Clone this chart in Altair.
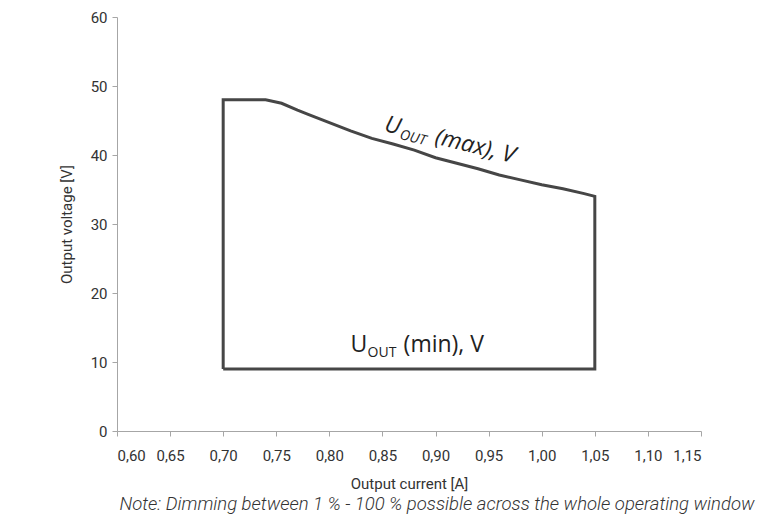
import altair as alt
import pandas as pd

# Operating window outline (current [A], voltage [V])
current = [0.70, 0.70, 0.74, 0.755, 0.77, 0.78, 0.80, 0.82, 0.84, 0.86, 0.88, 0.90,
           0.92, 0.94, 0.96, 0.98, 1.00, 1.02, 1.04, 1.05, 1.05, 0.70]
voltage = [9, 48, 48, 47.5, 46.5, 45.9, 44.7, 43.5, 42.4, 41.6, 40.7, 39.6,
           38.8, 38.0, 37.1, 36.4, 35.7, 35.1, 34.4, 34.0, 9, 9]

x_ticks = [0.60, 0.65, 0.70, 0.75, 0.80, 0.85, 0.90, 0.95, 1.00, 1.05, 1.10, 1.15]
y_ticks = [0, 10, 20, 30, 40, 50, 60]

note = "Note: Dimming between 1 % - 100 % possible across the whole operating window"

df = pd.DataFrame({"current": current, "voltage": voltage, "order": list(range(len(current)))})

AXIS_FONT = "Roboto"
NOTE_FONT = "Roboto"
LINE_COLOR = "#464646"
TEXT_COLOR = "#333333"

xscale = alt.Scale(domain=[0.60, 1.15], nice=False, zero=False)
yscale = alt.Scale(domain=[0, 60], nice=False)

line = alt.Chart(df).mark_line(color=LINE_COLOR, strokeWidth=3, strokeJoin="miter").encode(
    x=alt.X("current:Q", scale=xscale,
            axis=alt.Axis(values=x_ticks, title="Output current [A]",
                          labelExpr="replace(format(datum.value, '.2f'), '.', ',')")),
    y=alt.Y("voltage:Q", scale=yscale,
            axis=alt.Axis(values=y_ticks, title="Output voltage [V]")),
    order="order:Q",
)

# Annotations
max_lab = pd.DataFrame({"current": [0.851], "voltage": [43.5]})
min_lab = pd.DataFrame({"current": [0.820], "voltage": [11.45]})

def piece(data, txt, size, dx, dy, angle, italic):
    return alt.Chart(data).mark_text(
        text=txt, fontSize=size, dx=dx, dy=dy, angle=angle, align="left",
        baseline="alphabetic", font="Open Sans", color="#222222",
        fontStyle="italic" if italic else "normal",
    ).encode(x=alt.X("current:Q", scale=xscale), y=alt.Y("voltage:Q", scale=yscale))

ang = 14
annots = [
    piece(max_lab, "U", 23, 0, 0, ang, True),
    piece(max_lab, "OUT", 14, 17, 4, ang, True),
    piece(max_lab, "(max), V", 23, 52, 0, ang, True),
    piece(min_lab, "U", 23, 0, 0, 0, False),
    piece(min_lab, "OUT", 14, 17, 5, 0, False),
    piece(min_lab, "(min), V", 23, 53, 0, 0, False),
]

chart = alt.layer(line, *annots).properties(
    width=584, height=414,
    padding={"left": 117, "top": 17, "right": 65, "bottom": 85},
    autosize=alt.AutoSizeParams(type="none"),
    title=alt.TitleParams(note, orient="bottom", anchor="middle", dx=28, offset=4,
                          fontSize=18.5, fontStyle="italic", fontWeight=300,
                          font=NOTE_FONT, color=TEXT_COLOR),
).configure_view(stroke=None).configure_axis(
    grid=False, domainColor="#a6a6a6", tickColor="#a6a6a6", tickSize=5,
    labelFont=AXIS_FONT, labelFontSize=15, labelColor=TEXT_COLOR,
    titleFont=AXIS_FONT, titleFontSize=15, titleColor=TEXT_COLOR, titleFontWeight="normal",
).configure_axisX(labelPadding=12, titlePadding=13).configure_axisY(labelPadding=5, titlePadding=16)

chart.save("out.html", embed_options={"renderer": "svg", "actions": False})
